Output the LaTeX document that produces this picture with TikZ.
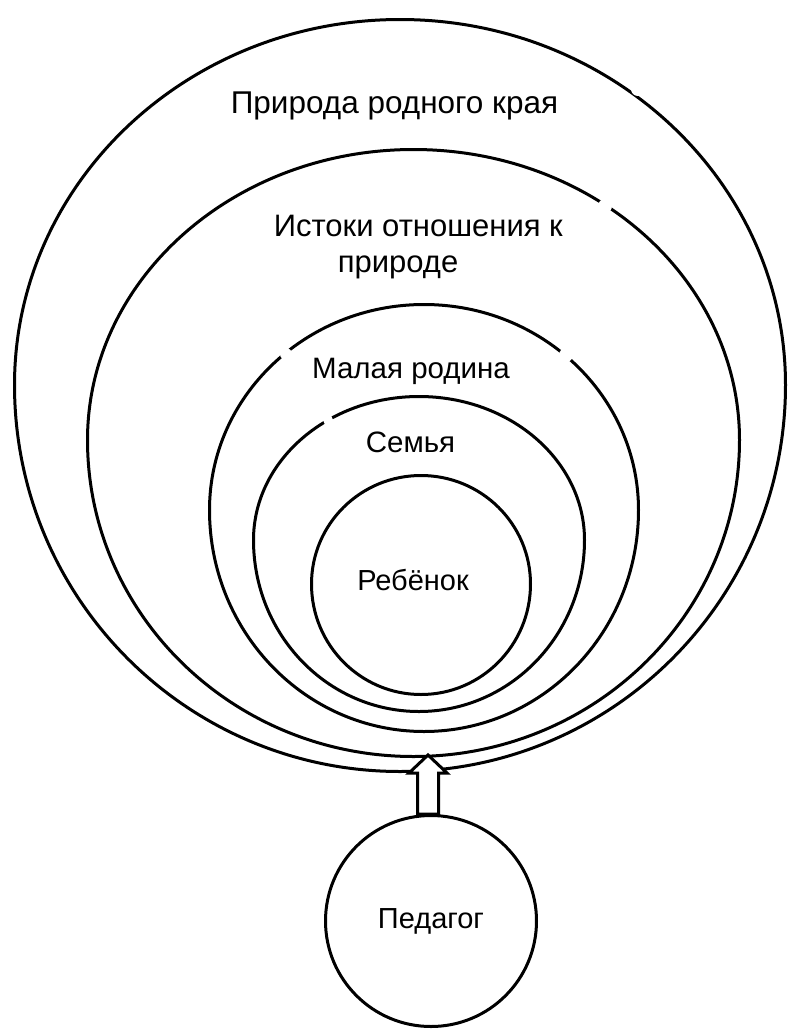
\documentclass[tikz,border=0pt]{standalone}
\usepackage{fontspec}
\setmainfont{Liberation Sans}
\usetikzlibrary{calc}
\tikzset{
  ring/.style={draw=black, line width=3pt},
  lbl/.style={inner sep=0pt, anchor=base, text=black},
  cutmark/.style={fill=white, draw=none},
}
\begin{document}
\begin{tikzpicture}[x=1pt, y=-1pt]
\useasboundingbox (0,0) rectangle (788,1029);
% outer egg: Priroda rodnogo kraya
\draw[ring] (14.5,385) arc[start angle=180,end angle=360,x radius=385.5,y radius=365.5]
  arc[start angle=0,end angle=180,x radius=385.5,y radius=386.5];
% Istoki
\draw[ring] (87.5,440) arc[start angle=180,end angle=360,x radius=326,y radius=290.5]
  arc[start angle=0,end angle=180,x radius=326,y radius=316.5];
% Malaya rodina
\draw[ring] (209.5,510) arc[start angle=180,end angle=360,x radius=214.5,y radius=205.5]
  arc[start angle=0,end angle=180,x radius=214.5,y radius=221.5];
% Semya
\draw[ring] (253.5,540) arc[start angle=180,end angle=360,x radius=165.5,y radius=143.5]
  arc[start angle=0,end angle=180,x radius=165.5,y radius=171.5];
% Rebenok
\draw[ring] (311.5,584) arc[start angle=180,end angle=360,x radius=109.5,y radius=108.5]
  arc[start angle=0,end angle=180,x radius=109.5,y radius=110.5];
% small breaks in the lines
\fill[cutmark] (638,89) circle (7);
\fill[cutmark] (605,206) circle (7);
\fill[cutmark] (566,355) circle (7);
\fill[cutmark] (286,354) circle (6);
\fill[cutmark] (328,420) circle (5);
% teacher
\node[ring, circle, minimum size=211pt, inner sep=0pt, font=\fontsize{29}{34}\selectfont] (ped) at (431,921) {Педагог};
\coordinate (tip) at (428,755);
\coordinate (hl) at (409,773);
\coordinate (hr) at (447,773);
\coordinate (sl) at (417.5,773);
\coordinate (sr) at (438.5,773);
\draw[ring, fill=white, line join=miter] (tip) -- (hr) -- (sr) -- (sr |- ped.north)
  -- (sl |- ped.north) -- (sl) -- (hl) -- cycle;
% labels
\node[lbl, font=\fontsize{31.5}{36}\selectfont] (t1) at (394.5,113) {Природа родного края};
\node[inner sep=0pt, anchor=north west, align=left, font=\fontsize{31}{36}\selectfont] (t2) at (273.6,215) {Истоки отношения к\\\hspace*{64pt}природе};
\node[lbl, font=\fontsize{29.5}{34}\selectfont] (t3) at (411,378.3) {Малая родина};
\node[lbl, font=\fontsize{29.5}{34}\selectfont] (t4) at (410.5,452.7) {Семья};
\node[lbl, font=\fontsize{29}{34}\selectfont] (t5) at (413,590) {Ребёнок};
\end{tikzpicture}
\end{document}
